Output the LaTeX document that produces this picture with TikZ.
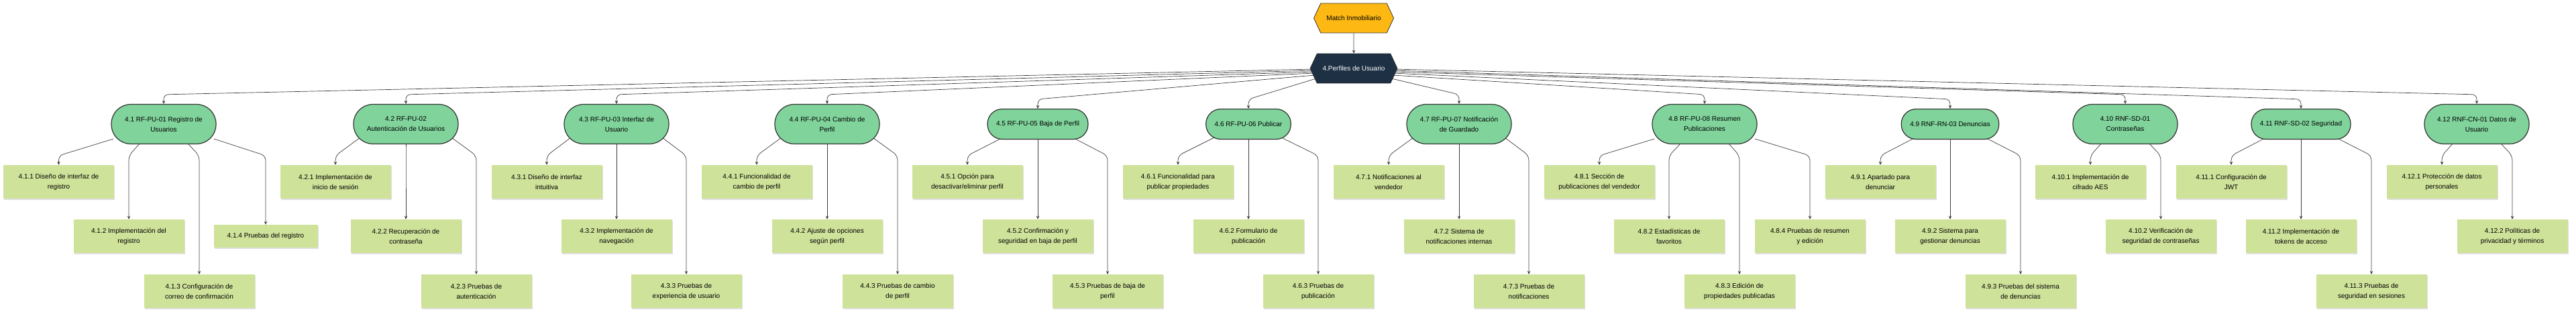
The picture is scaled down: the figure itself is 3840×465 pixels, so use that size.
\documentclass[tikz,border=0pt]{standalone}
\usepackage{fontspec}
\setmainfont{Liberation Sans}
\usetikzlibrary{arrows.meta,shapes.symbols,shadows,backgrounds}

\definecolor{amber}{RGB}{253,184,19}
\definecolor{navy}{RGB}{30,48,68}
\definecolor{reqgreen}{RGB}{128,211,155}
\definecolor{taskgreen}{RGB}{207,226,154}
\definecolor{edgegray}{RGB}{60,60,60}

\tikzset{
  hexa/.style={shape=signal, signal to=east and west, signal pointer angle=130, draw=black!80, line width=0.8pt,
    font=\fontsize{10}{15}\selectfont, minimum height=44pt, inner xsep=4pt},
  req/.style={draw=black!80, line width=1.2pt, fill=reqgreen, rounded corners=22pt, minimum height=45pt,
    inner xsep=13pt, align=center, font=\fontsize{10}{15}\selectfont},
  reqtwo/.style={req, rounded corners=29pt, minimum width=156pt, minimum height=59pt},
  task/.style={fill=taskgreen, minimum width=165pt, minimum height=50pt, align=center, font=\fontsize{10}{15}\selectfont,
    drop shadow={shadow xshift=1pt, shadow yshift=-1.5pt, fill=black!25}},
  link/.style={draw=edgegray, line width=0.7pt, rounded corners=7pt, -{Stealth[length=5pt,width=4.5pt]}}
}

\begin{document}
\begin{tikzpicture}[x=1pt,y=-1pt]
\useasboundingbox (0,0) rectangle (3840,465);
\coordinate (kinkrow) at (0,232);

\node[hexa, fill=amber, minimum width=119pt] (root) at (2018,27) {Match Inmobiliario};
\node[hexa, fill=navy, text=white, minimum width=130pt] (hub) at (2018,102) {4.Perfiles de Usuario};

\foreach \nm/\x/\st/\txt in {
    n41/244/reqtwo/{4.1 RF-PU-01 Registro de\\Usuarios},
    n42/605/reqtwo/{4.2 RF-PU-02\\Autenticación de Usuarios},
    n43/919/reqtwo/{4.3 RF-PU-03 Interfaz de\\Usuario},
    n44/1233/reqtwo/{4.4 RF-PU-04 Cambio de\\Perfil},
    n45/1547/req/{4.5 RF-PU-05 Baja de Perfil},
    n46/1861/req/{4.6 RF-PU-06 Publicar},
    n47/2175/reqtwo/{4.7 RF-PU-07 Notificación\\de Guardado},
    n48/2541/reqtwo/{4.8 RF-PU-08 Resumen\\Publicaciones},
    n49/2907/req/{4.9 RNF-RN-03 Denuncias},
    n410/3168/reqtwo/{4.10 RNF-SD-01\\Contraseñas},
    n411/3430/req/{4.11 RNF-SD-02 Seguridad},
    n412/3692/reqtwo/{4.12 RNF-CN-01 Datos de\\Usuario}}
  \node[\st] (\nm) at (\x,185) {\txt};

\foreach \nm/\x/\y/\txt in {
    l411/87.5/271/{4.1.1 Diseño de interfaz de\\registro},
    l412/192/352/{4.1.2 Implementación del\\registro},
    l413/297/434/{4.1.3 Configuración de\\correo de confirmación},
    l421/500/271/{4.2.1 Implementación de\\inicio de sesión},
    l422/605/352/{4.2.2 Recuperación de\\contraseña},
    l423/710/434/{4.2.3 Pruebas de\\autenticación},
    l431/815/271/{4.3.1 Diseño de interfaz\\intuitiva},
    l432/919/352/{4.3.2 Implementación de\\navegación},
    l433/1023/434/{4.3.3 Pruebas de\\experiencia de usuario},
    l441/1128/271/{4.4.1 Funcionalidad de\\cambio de perfil},
    l442/1233/352/{4.4.2 Ajuste de opciones\\según perfil},
    l443/1338/434/{4.4.3 Pruebas de cambio\\de perfil},
    l451/1442/271/{4.5.1 Opción para\\desactivar/eliminar perfil},
    l452/1547/352/{4.5.2 Confirmación y\\seguridad en baja de perfil},
    l453/1651/434/{4.5.3 Pruebas de baja de\\perfil},
    l461/1756/271/{4.6.1 Funcionalidad para\\publicar propiedades},
    l462/1861/352/{4.6.2 Formulario de\\publicación},
    l463/1965/434/{4.6.3 Pruebas de\\publicación},
    l471/2070/271/{4.7.1 Notificaciones al\\vendedor},
    l472/2175/352/{4.7.2 Sistema de\\notificaciones internas},
    l473/2279/434/{4.7.3 Pruebas de\\notificaciones},
    l481/2384/271/{4.8.1 Sección de\\publicaciones del vendedor},
    l482/2488/352/{4.8.2 Estadísticas de\\favoritos},
    l483/2593/434/{4.8.3 Edición de\\propiedades publicadas},
    l484/2698/352/{4.8.4 Pruebas de resumen\\y edición},
    l491/2803/271/{4.9.1 Apartado para\\denunciar},
    l492/2907/352/{4.9.2 Sistema para\\gestionar denuncias},
    l493/3012/434/{4.9.3 Pruebas del sistema\\de denuncias},
    l4101/3116/271/{4.10.1 Implementación de\\cifrado AES},
    l4102/3221/352/{4.10.2 Verificación de\\seguridad de contraseñas},
    l4111/3326/271/{4.11.1 Configuración de\\JWT},
    l4112/3430/352/{4.11.2 Implementación de\\tokens de acceso},
    l4113/3535/434/{4.11.3 Pruebas de\\seguridad en sesiones},
    l4121/3640/271/{4.12.1 Protección de datos\\personales},
    l4122/3745/352/{4.12.2 Políticas de\\privacidad y términos}}
  \node[task] (\nm) at (\x,\y) {\txt};
\node[task, minimum width=155pt, minimum height=34pt] (l414) at (396,352) {4.1.4 Pruebas del registro};

\begin{scope}[on background layer]
\draw[link] (root) -- (hub);
\foreach \c/\dx/\dy in {n41/-58/1, n42/-58/3, n43/-58/5, n44/-58/7, n45/-58/10, n46/-56/15,
    n47/56/15, n48/58/10, n49/58/7, n410/58/5, n411/58/3, n412/58/1}
  \draw[link] ([shift={(\dx,\dy)}]hub.center) -- ([yshift=14pt]\c.north) -- (\c.north);
\foreach \p/\dx/\dy/\c in {
    n41/-75/22/l411, n41/-34/27/l412, n41/34/27/l413, n41/75/22/l414,
    n42/-68/20/l421, n42/0/27/l422, n42/68/20/l423,
    n43/-68/20/l431, n43/0/27/l432, n43/68/20/l433,
    n44/-68/20/l441, n44/0/27/l442, n44/68/20/l443,
    n45/-52/20/l451, n45/0/20/l452, n45/52/20/l453,
    n46/-51/20/l461, n46/0/20/l462, n46/49/20/l463,
    n47/-68/20/l471, n47/0/27/l472, n47/68/20/l473,
    n48/-75/22/l481, n48/-34/27/l482, n48/34/27/l483, n48/75/22/l484,
    n49/-52/20/l491, n49/0/20/l492, n49/52/20/l493,
    n410/-34/27/l4101, n410/34/27/l4102,
    n411/-52/20/l4111, n411/0/20/l4112, n411/52/20/l4113,
    n412/-34/27/l4121, n412/34/27/l4122}
  \draw[link] ([shift={(\dx,\dy)}]\p.center) -- (\c.north |- kinkrow) -- (\c.north);
\end{scope}
\end{tikzpicture}
\end{document}
